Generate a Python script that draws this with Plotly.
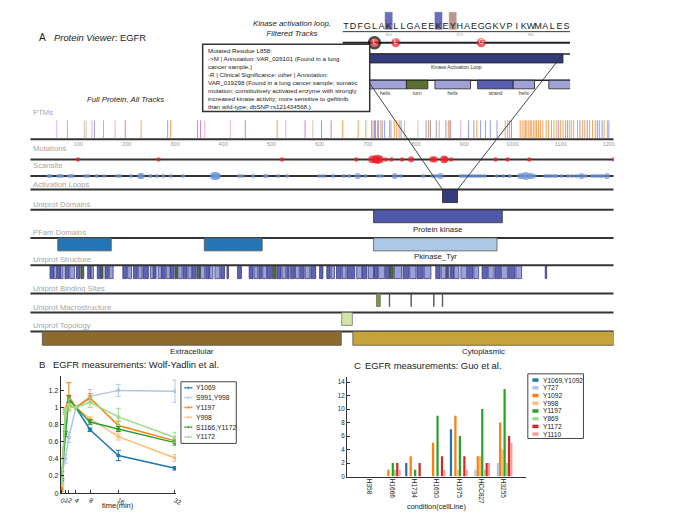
import plotly.graph_objects as go

W, H = 696, 525          # reference canvas (window) size
PAD = 8                  # default page body margin around the plot
PW, PH = W - 2 * PAD, H - 2 * PAD
FONT = "Liberation Sans, Arial, Helvetica, sans-serif"

# ======================= DATA =======================
protein = "EGFR"
protein_length = 1210
position_ticks = [100, 200, 300, 400, 500, 600, 700, 800, 900, 1000, 1100, 1200]

# PTM sites (residue positions) by modification type
ptm_phospho = [77, 152, 230, 291, 512, 648, 680, 696, 711, 720, 727, 745, 755, 760, 765,
               826, 848, 867, 869, 926, 985, 990, 994, 1016, 1020, 1024, 1027, 1030, 1034,
               1037, 1040, 1044, 1047, 1050, 1054, 1058, 1063, 1070, 1075, 1081, 1086, 1092,
               1100, 1105, 1110, 1118, 1122, 1127, 1135, 1145, 1150, 1160, 1166, 1172, 1190, 1197]
ptm_ubiquitin = [133, 285, 347, 708, 714, 716, 722, 730, 735, 748, 769, 821, 830, 842, 862,
                 872, 909, 920, 934, 944, 954, 968, 998, 1096, 1114, 1140, 1155, 1176, 1180,
                 1186, 1200]
ptm_n_glyco = [55, 128, 176, 362, 415, 530, 893]
ptm_o_glyco = [197, 353, 446, 570, 604, 624]
ptm_acetyl = [112, 116, 586, 776, 804]

mutation_positions = [99, 266, 522, 676, 709, 715, 720, 725, 737, 749, 771, 790, 834, 839,
                      858, 861, 873, 965, 990, 1035, 1210]
mutation_counts = [1, 1, 1, 1, 3, 3, 4, 3, 1, 1, 1, 2, 2, 2, 3, 2, 1, 1, 1, 1, 1]

scansite_positions = [38, 42, 58, 62, 66, 80, 84, 88, 114, 120,
                      138, 153, 180, 186, 209, 228, 231, 249, 263, 276,
                      291, 317, 381, 385, 389, 433, 440, 462, 487, 490,
                      514, 533, 600, 609, 628, 650, 661, 679, 695, 722,
                      729, 756, 768, 815, 834, 840, 846, 851, 893, 898,
                      903, 910, 916, 922, 928, 934, 942, 968, 981, 995,
                      1016, 1022, 1028, 1034, 1040, 1046, 1068, 1073, 1080, 1086,
                      1092, 1102, 1116, 1124, 1133, 1143, 1152, 1165, 1170, 1176,
                      1182, 1186, 1196]
scansite_counts = [1, 1, 1, 1, 1, 1, 1, 1, 1, 1,
                   1, 1, 1, 1, 1, 2, 2, 1, 1, 1,
                   1, 1, 3, 3, 2, 1, 1, 1, 1, 1,
                   1, 1, 1, 1, 1, 1, 1, 2, 1, 1,
                   1, 2, 1, 1, 1, 1, 1, 2, 1, 1,
                   1, 1, 1, 1, 1, 1, 1, 1, 1, 1,
                   2, 2, 3, 2, 2, 1, 1, 1, 1, 1,
                   1, 1, 1, 1, 1, 2, 1, 1, 1, 1,
                   1, 1, 2]

activation_loop = [855, 886]

uniprot_domain_names = ["Protein kinase"]
uniprot_domain_starts = [712]
uniprot_domain_ends = [979]

pfam_names = ["Recep_L_domain", "Recep_L_domain", "Pkinase_Tyr"]
pfam_starts = [57, 361, 712]
pfam_ends = [168, 481, 968]
pfam_labelled = [False, False, True]

structure_strand = [(41, 48), (56, 62), (72, 80), (96, 103), (119, 125), (139, 145), (155, 162),
                    (192, 200), (214, 222), (234, 245), (256, 261), (273, 280), (291, 298),
                    (317, 325), (336, 344), (364, 371), (395, 403), (408, 411), (430, 438),
                    (454, 462), (474, 480), (492, 500), (512, 520), (532, 537), (540, 548),
                    (560, 568), (582, 592), (600, 607), (615, 622), (635, 645), (657, 673),
                    (689, 698), (713, 720), (737, 745), (773, 785), (802, 815), (841, 850),
                    (873, 878), (907, 918), (937, 948), (964, 975), (992, 1005), (1068, 1071)]
structure_helix = [(49, 55), (63, 68), (82, 92), (126, 131), (164, 172), (202, 210), (224, 232),
                   (249, 255), (265, 272), (282, 290), (306, 315), (327, 335), (353, 362),
                   (372, 379), (383, 393), (464, 472), (482, 490), (522, 530), (550, 558),
                   (570, 580), (624, 631), (647, 655), (677, 688), (701, 712), (722, 735),
                   (755, 770), (787, 800), (817, 831), (852, 862), (867, 872), (879, 889),
                   (893, 905), (920, 930), (950, 962), (977, 990), (1007, 1019)]
structure_turn = [(105, 111), (146, 151), (300, 305), (346, 352), (502, 510), (746, 753), (863, 866)]

binding_nucleotide = [(718, 726)]
binding_residues = [745, 790, 837, 855]

macro_names = ["Transmembrane"]
macro_starts = [646]
macro_ends = [668]

topology_names = ["Extracellular", "Cytoplasmic"]
topology_starts = [25, 669]
topology_ends = [645, 1210]

# zoomed view: kinase activation loop
zoom_start = 854
zoom_sequence = "TDFGLAKLLGAEEKEYHAEGGKVPIKWMALES"
zoom_ticks = [860, 870, 880]
zoom_ptm_residues = [860, 867, 869]
zoom_ptm_kinds = ["ubiquitin", "ubiquitin", "phospho"]
zoom_mut_residues = [858, 861, 873]
zoom_mut_letters = ["L", "L", "G"]
zoom_selected = 858
zoom_loop_name = "Kinase Activation Loop"
zoom_loop_start, zoom_loop_end = 855, 884
zoom_struct_kinds = ["helix", "turn", "helix", "strand", "helix", "helix"]
zoom_struct_starts = [857, 863, 867, 873, 878, 883]
zoom_struct_ends = [862, 865, 871, 877, 880, 890]
tooltip_lines = [
    "Mutated Residue L858:",
    "->M | Annotation: VAR_026101 (Found in a lung",
    "cancer sample.)",
    "-R | Clinical Significance: other | Annotation:",
    "VAR_019298 (Found in a lung cancer sample; somatic",
    "mutation; constitutively activated enzyme with strongly",
    "increased kinase activity; more sensitive to gefitinib",
    "than wild-type; dbSNP:rs121434568.)",
]

# Panel B: Wolf-Yadlin time course
time_min = [0, 1, 2, 4, 8, 16, 32]
wy_names = ["Y1069", "S991,Y998", "Y1197", "Y998", "S1166,Y1172", "Y1172"]
wy_Y1069 = [0.15, 0.95, 1.02, 1.0, 0.74, 0.44, 0.29]
wy_S991_Y998 = [0.22, 0.40, 0.65, 1.0, 1.13, 1.20, 1.19]
wy_Y1197 = [0.05, 0.97, 1.13, 1.0, 1.11, 0.79, 0.61]
wy_Y998 = [0.10, 0.97, 1.00, 1.0, 0.87, 0.66, 0.41]
wy_S1166_Y1172 = [0.20, 0.69, 1.10, 1.0, 0.83, 0.75, 0.59]
wy_Y1172 = [0.13, 0.95, 1.03, 1.0, 1.06, 0.89, 0.65]
err_Y1069 = [0.02, 0.03, 0.02, 0.0, 0.02, 0.06, 0.02]
err_S991_Y998 = [0.03, 0.05, 0.06, 0.0, 0.08, 0.07, 0.13]
err_Y1197 = [0.03, 0.03, 0.16, 0.0, 0.05, 0.05, 0.03]
err_Y998 = [0.02, 0.03, 0.04, 0.0, 0.02, 0.04, 0.04]
err_S1166_Y1172 = [0.05, 0.03, 0.04, 0.0, 0.03, 0.03, 0.03]
err_Y1172 = [0.03, 0.03, 0.07, 0.0, 0.06, 0.10, 0.06]

# Panel C: Guo et al.
cell_lines = ["H358", "H1666", "H1734", "H1650", "H1975", "HCC827", "H3255"]
guo_names = ["Y1069,Y1092", "Y727", "Y1092", "Y998", "Y1197", "Y869", "Y1172", "Y1110"]
guo_Y1069_Y1092 = [0, 0, 2, 0, 7, 0, 0]
guo_Y727 = [0, 0, 0, 0, 0, 1, 2]
guo_Y1092 = [0, 1, 3, 5, 9, 3, 8]
guo_Y998 = [0, 0, 0, 0, 1, 3, 4]
guo_Y1197 = [0, 2, 1, 9, 6, 10, 13]
guo_Y869 = [0, 1, 0, 0, 0, 1, 2]
guo_Y1172 = [0, 2, 2, 3, 3, 2, 6]
guo_Y1110 = [0, 1, 0, 1, 1, 2, 5]

# ======================= STYLE / LAYOUT =======================
PAIR = ['#1f77b4', '#aec7e8', '#ff7f0e', '#ffbb78', '#2ca02c', '#98df8a', '#d62728', '#ff9896']
FULL_X0, FULL_X1 = 29.5, 619.9
ZOOM_X0, ZOOM_X1 = 345.4, 575.8
ZOOM_RANGE = [853.5, 885.5]


def fx(p):
    return (p - PAD) / PW


def fy(p):
    return 1 - (p - PAD) / PH


def full_px(aa):
    return FULL_X0 + aa / protein_length * (FULL_X1 - FULL_X0)


def zoom_px(r):
    return ZOOM_X0 + (r - ZOOM_RANGE[0]) / (ZOOM_RANGE[1] - ZOOM_RANGE[0]) * (ZOOM_X1 - ZOOM_X0)


track_labels = ["PTMs", "Mutations", "Scansite", "Activation Loops", "Uniprot Domains",
                "PFam Domains", "Uniprot Structure", "Uniprot Binding Sites",
                "Uniprot Macrostructure", "Uniprot Topology"]
label_rows = [113, 149, 166.7, 186, 205.7, 233.7, 261.3, 290, 309, 327.7]
line_rows = [140, 160.3, 177, 190.7, 211, 239.3, 266.7, 295.3, 314.3, 333.3]
BOX = 13

fig = go.Figure()
shapes = []
annotations = []


def rect(xref, x0, x1, y0, y1, fill, line='#333', lw=0.8, layer='below'):
    shapes.append(dict(type='rect', xref=xref, yref='y', x0=x0, x1=x1, y0=y0, y1=y1,
                       fillcolor=fill, line=dict(color=line, width=lw), layer=layer))


def hline(xref, x0, x1, y, color='#333', width=2, layer='below'):
    shapes.append(dict(type='line', xref=xref, yref='y', x0=x0, x1=x1, y0=y, y1=y,
                       line=dict(color=color, width=width), layer=layer))


def text(x, y, s, size, color='#222', xref='paper', yref='y', xanchor='left', yanchor='middle', **kw):
    annotations.append(dict(x=x, y=y, xref=xref, yref=yref, text=s, showarrow=False,
                            xanchor=xanchor, yanchor=yanchor,
                            font=dict(family=FONT, size=size, color=color), **kw))


# ---- titles ----
text(fx(36), 38, "A", 10)
text(fx(51.5), 38, "<i>Protein Viewer</i>: " + protein, 9.4)
text(fx(126), 100, "<i>Full Protein, All Tracks</i>", 7.8, xanchor='center')
text(fx(253), 28.5, "<i>Kinase activation loop,<br>Filtered Tracks</i>", 7.8)

# ---- track labels and lines ----
for lab, lr, ln in zip(track_labels, label_rows, line_rows):
    text(fx(30), lr, lab, 7.7, color='#a6a6a6')
    hline('x', 0, protein_length, ln)

# PTM lines
ptm_groups = [(ptm_phospho, '#f7943c'), (ptm_ubiquitin, '#8a8cd4'), (ptm_n_glyco, '#dfa2d8'),
              (ptm_o_glyco, '#cc6cbc'), (ptm_acetyl, '#d3b5a8')]
for sites, col in ptm_groups:
    xs, ys = [], []
    for s in sites:
        xs += [s, s, None]
        ys += [line_rows[0] - 19, line_rows[0] - 1, None]
    fig.add_trace(go.Scatter(x=xs, y=ys, mode='lines', line=dict(color=col, width=1),
                             opacity=0.85, xaxis='x', yaxis='y', hoverinfo='skip'))

# mutations
fig.add_trace(go.Scatter(x=mutation_positions, y=[line_rows[1]] * len(mutation_positions),
                         mode='markers', xaxis='x', yaxis='y', hoverinfo='skip',
                         marker=dict(color='#ee1c24', line=dict(width=0),
                                     size=[4.5 + 1.6 * (c - 1) for c in mutation_counts])))
# scansite
fig.add_trace(go.Scatter(x=scansite_positions, y=[line_rows[2]] * len(scansite_positions),
                         mode='markers', xaxis='x', yaxis='y', hoverinfo='skip',
                         marker=dict(color='#6f96dc', line=dict(width=0),
                                     size=[4.2 + 2 * (c - 1) for c in scansite_counts])))

# activation loop box
rect('x', activation_loop[0], activation_loop[1], line_rows[3], line_rows[3] + BOX, '#363b7c', '#222')

# uniprot domains
for nm, s, e in zip(uniprot_domain_names, uniprot_domain_starts, uniprot_domain_ends):
    rect('x', s, e, line_rows[4], line_rows[4] + BOX, '#5157a9', '#333')
    text((s + e) / 2, line_rows[4] + 20, nm, 7.8, xref='x', xanchor='center')

# pfam
for nm, s, e, lab in zip(pfam_names, pfam_starts, pfam_ends, pfam_labelled):
    col = '#aec8e8' if lab else '#2375b6'
    rect('x', s, e, line_rows[5], line_rows[5] + BOX, col, '#555')
    if lab:
        text((s + e) / 2, line_rows[5] + 18.5, nm, 7.8, xref='x', xanchor='center')

# structure
for segs, col in [(structure_helix, '#9ea0da'), (structure_strand, '#5f62b6'), (structure_turn, '#5a6a2e')]:
    for s, e in segs:
        rect('x', s, e, line_rows[6] + 1, line_rows[6] + BOX + 0.5, col, '#2b2e6a', 0.7)

# binding sites
for s, e in binding_nucleotide:
    rect('x', s, e, line_rows[7], line_rows[7] + BOX, '#7b9b3b', '#555', 0.6)
for r in binding_residues:
    rect('x', r - 0.6, r + 0.6, line_rows[7], line_rows[7] + BOX, '#444', '#444', 0.6)

# macrostructure
for nm, s, e in zip(macro_names, macro_starts, macro_ends):
    rect('x', s, e, line_rows[8], line_rows[8] + BOX, '#d3e4a6', '#777')

# topology
for nm, s, e, col in zip(topology_names, topology_starts, topology_ends, ['#8c6a2c', '#c6a33d']):
    rect('x', s, e, line_rows[9], line_rows[9] + 14, col, '#555')
    text((s + e) / 2, line_rows[9] + 20, nm, 7.9, xref='x', xanchor='center')

# ---- zoomed view ----
zres = [zoom_start + i for i in range(len(zoom_sequence))]
zoom_ptm_col = {"ubiquitin": '#6b6fbb', "phospho": '#bb978f'}
for r, k in zip(zoom_ptm_residues, zoom_ptm_kinds):
    rect('x2', r - 0.5, r + 0.5, 12.3, 29.5, zoom_ptm_col[k], zoom_ptm_col[k], 0.5)
hline('x2', ZOOM_RANGE[0], ZOOM_RANGE[1], 31.8, '#333', 1)
fig.add_trace(go.Scatter(x=zres, y=[27] * len(zres), mode='text', text=list(zoom_sequence),
                         textfont=dict(family=FONT, size=9, color='#1a1a1a'),
                         xaxis='x2', yaxis='y', hoverinfo='skip'))
hline('x2', ZOOM_RANGE[0], ZOOM_RANGE[1], 43, '#222', 2)
hline('x2', ZOOM_RANGE[0], ZOOM_RANGE[1], 54.3, '#222', 1.6)
rect('x2', zoom_loop_start - 0.5, zoom_loop_end + 0.5, 54.3, 63.3, '#353a7b', '#222', 0.8)
hline('x2', ZOOM_RANGE[0], ZOOM_RANGE[1], 80.7, '#222', 1.6)
zcol = {"helix": '#9fa1d8', "turn": '#5e7030', "strand": '#5a5db5'}
for k, s, e in zip(zoom_struct_kinds, zoom_struct_starts, zoom_struct_ends):
    rect('x2', s - 0.5, e + 0.5, 80.7, 89.3, zcol[k], '#222', 0.8)
fig.add_trace(go.Scatter(x=[(s + e) / 2 for s, e in zip(zoom_struct_starts, zoom_struct_ends)] +
                           [(zoom_loop_start + zoom_loop_end) / 2],
                         y=[94.3] * len(zoom_struct_kinds) + [67.7], mode='text',
                         text=zoom_struct_kinds + [zoom_loop_name], cliponaxis=True,
                         textfont=dict(family=FONT, size=5, color='#333'),
                         xaxis='x2', yaxis='y', hoverinfo='skip'))

# connectors between full track and zoom
for zr, fr in [(zoom_loop_start - 0.5, activation_loop[0]), (zoom_loop_end + 0.5, activation_loop[1])]:
    shapes.append(dict(type='line', xref='x9', yref='y', x0=zoom_px(zr), y0=54.3,
                       x1=full_px(fr), y1=line_rows[3], line=dict(color='#333', width=0.9), layer='above'))
# tooltip
shapes.append(dict(type='rect', xref='x9', yref='y', x0=204, x1=373, y0=44.5, y1=112,
                   fillcolor='white', line=dict(color='#333', width=1.5), layer='above'))
text(fx(207.5), 45.3, "<br>".join(tooltip_lines), 6.2, yanchor='top', align='left')

# mutation circles in zoom
fig.add_trace(go.Scatter(x=zoom_mut_residues, y=[43] * len(zoom_mut_residues),
                         mode='markers+text', text=zoom_mut_letters, textposition='middle center',
                         textfont=dict(family=FONT, size=6.5, color='white'),
                         marker=dict(color='#ee1c24', size=[11 if r == zoom_selected else 9 for r in zoom_mut_residues],
                                     line=dict(color='#000', width=[2.4 if r == zoom_selected else 0 for r in zoom_mut_residues])),
                         xaxis='x2', yaxis='y', hoverinfo='skip', cliponaxis=False))

# ---- Panel B ----
text(fx(36), 367, "B", 9.6)
text(fx(50), 367, "EGFR measurements: Wolf-Yadlin et al.", 9.4)
wy_vals = [wy_Y1069, wy_S991_Y998, wy_Y1197, wy_Y998, wy_S1166_Y1172, wy_Y1172]
wy_errs = [err_Y1069, err_S991_Y998, err_Y1197, err_Y998, err_S1166_Y1172, err_Y1172]
for nm, v, e, col in zip(wy_names, wy_vals, wy_errs, PAIR[:6]):
    fig.add_trace(go.Scatter(x=time_min, y=v, name=nm, mode='lines+markers',
                             line=dict(color=col, width=1.5), marker=dict(color=col, size=4),
                             error_y=dict(type='data', array=e, color=col, thickness=1, width=2.5),
                             xaxis='x3', yaxis='y3', hoverinfo='skip'))
text(fx(118), 508, "time(min)", 7.5, xanchor='center')
# legend B
shapes.append(dict(type='rect', xref='x9', yref='y', x0=182, x1=238, y0=384, y1=446,
                   fillcolor='white', line=dict(color='#444', width=1), layer='below'))
for i, (nm, col) in enumerate(zip(wy_names, PAIR[:6])):
    yy = 390 + 9.9 * i
    fig.add_trace(go.Scatter(x=[185.5, 189.5, 193.5], y=[yy] * 3, mode='lines+markers',
                             line=dict(color=col, width=1.5), marker=dict(color=col, size=[0, 3.5, 0]),
                             xaxis='x9', yaxis='y', hoverinfo='skip'))
    text(fx(195.5), yy, nm, 6.8)

# ---- Panel C ----
text(fx(355), 367.5, "C", 9.6)
text(fx(366.5), 367.5, "EGFR measurements: Guo et al.", 9.4)
guo_vals = [guo_Y1069_Y1092, guo_Y727, guo_Y1092, guo_Y998, guo_Y1197, guo_Y869, guo_Y1172, guo_Y1110]
for nm, v, col in zip(guo_names, guo_vals, PAIR):
    fig.add_trace(go.Bar(x=cell_lines, y=v, name=nm, marker=dict(color=col, line=dict(width=0)),
                         xaxis='x4', yaxis='y4', hoverinfo='skip'))
text(fx(440.5), 509, "condition(cellLine)", 7.3, xanchor='center')
shapes.append(dict(type='rect', xref='x9', yref='y', x0=533, x1=589.3, y0=376, y1=441,
                   fillcolor='white', line=dict(color='#444', width=1), layer='below'))
for i, (nm, col) in enumerate(zip(guo_names, PAIR)):
    yy = 382.3 + 7.77 * i
    rect('x9', 537.8, 543.6, yy - 1.6, yy + 1.6, col, col, 0.3)
    text(fx(546), yy, nm, 6.6)

axis_common = dict(showgrid=False, zeroline=False, fixedrange=True)
fig.update_layout(
    width=PW, height=PH, margin=dict(l=0, r=0, t=0, b=0),
    paper_bgcolor='white', plot_bgcolor='rgba(0,0,0,0)',
    showlegend=False, barmode='group', bargap=0.2, bargroupgap=0,
    font=dict(family=FONT, color='#222'),
    shapes=shapes, annotations=annotations,
    xaxis=dict(domain=[fx(FULL_X0), fx(FULL_X1)], range=[0, protein_length], anchor='free',
               position=fy(140.5), showline=False, ticks='', tickvals=position_ticks,
               tickfont=dict(size=5.5, color='#999'), **axis_common),
    yaxis=dict(domain=[0, 1], range=[PAD + PH, PAD], visible=False, anchor='free', position=0,
               **axis_common),
    xaxis2=dict(domain=[fx(ZOOM_X0), fx(ZOOM_X1)], range=ZOOM_RANGE, anchor='free',
                position=fy(31.5), showline=False, ticks='', tickvals=zoom_ticks,
                tickfont=dict(size=4, color='#aaa'), **axis_common),
    xaxis9=dict(domain=[0, 1], range=[PAD, PAD + PW], visible=False, anchor='y', **axis_common),
    xaxis3=dict(domain=[fx(60.3), fx(177)], range=[-0.3, 32.3], anchor='y3', showline=True,
                linecolor='#333', linewidth=1, ticks='inside', ticklen=3, tickcolor='#333',
                tickvals=time_min, tickfont=dict(size=6.5), **axis_common),
    yaxis3=dict(domain=[fy(496), fy(378)], range=[0, 1.37], anchor='x3', showline=True,
                linecolor='#333', linewidth=1, ticks='inside', ticklen=3, tickcolor='#333',
                tickvals=[0, 0.2, 0.4, 0.6, 0.8, 1.0, 1.2],
                ticktext=['0', '0.2', '0.4', '0.6', '0.8', '1', '1.2'],
                tickfont=dict(size=7), **axis_common),
    xaxis4=dict(domain=[fx(350), fx(531)], type='category', categoryorder='array',
                categoryarray=cell_lines, range=[-1, 7], anchor='y4', showline=True,
                linecolor='#333', linewidth=1, ticks='', tickangle=90,
                tickfont=dict(size=6.5), **axis_common),
    yaxis4=dict(domain=[fy(479.3), fy(379.3)], range=[0, 14.75], anchor='x4', showline=True,
                linecolor='#333', linewidth=1, ticks='inside', ticklen=3, tickcolor='#333',
                tickvals=[0, 2, 4, 6, 8, 10, 12, 14], tickfont=dict(size=6.3), **axis_common),
)

fig.write_html("out.html")
